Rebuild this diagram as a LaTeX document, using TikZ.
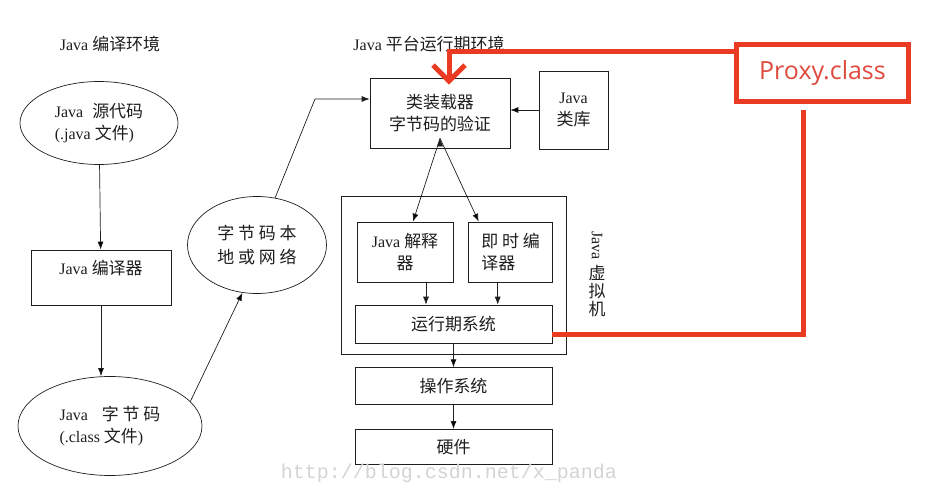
\documentclass[tikz,border=0pt]{standalone}
\usepackage{fontspec}
\setmainfont{Liberation Serif}
\newfontfamily\cjk[Scale=1.06]{Noto Sans CJK SC}
\newfontfamily\marktt{Liberation Mono}
\newfontfamily\proxyfont{Open Sans}
\usetikzlibrary{arrows, arrows.meta, shapes, positioning}
\definecolor{ink}{RGB}{30,30,30}
\definecolor{proxyred}{RGB}{234,58,34}
\definecolor{proxytext}{RGB}{222,74,62}
\definecolor{markgray}{RGB}{212,212,212}
\newcommand{\zh}[1]{{\cjk #1}}

\begin{document}
\begin{tikzpicture}[x=1pt,y=-1pt,>={Latex[length=8pt,width=6pt]},line width=0.7pt,
	font=\fontsize{16}{22}\selectfont,text=ink]

	\tikzset{node box/.style={rectangle, draw=ink, inner sep=2pt, align=center}}
	\tikzset{node ell/.style={ellipse, draw=ink, inner sep=0pt, align=left}}
	\tikzset{node red/.style={rectangle, draw=proxyred, line width=5pt,
			text=proxytext, font=\proxyfont\fontsize{25}{28}\selectfont}}
	\tikzset{red link/.style={draw=proxyred, line width=5pt}}

	\useasboundingbox (0,0) rectangle (930,495);

	% compile side
	\node (buildenv) at (110,44) {Java \zh{编译环境}};
	\node[node ell, minimum width=158pt, minimum height=83pt] (src) at (99,123)
		{Java\hspace{9pt}\zh{源代码}\\(.java \zh{文件})};
	\node[node box, minimum width=140pt, minimum height=55pt, inner ysep=6pt,
		text height=18pt, text depth=25pt] (javac) at (101,277.5) {Java \zh{编译器}};
	\node[node ell, minimum width=184pt, minimum height=99pt] (bc) at (110,426)
		{Java\hspace{14pt}\zh{字 节 码}\\(.class \zh{文件})};
	\node[node ell, align=center, minimum width=139pt, minimum height=97pt] (net) at (257,245)
		{\zh{字 节 码 本}\\[2pt]\zh{地 或 网 络}};

	% runtime side
	\node (runenv) at (429,44) {Java \zh{平台运行期环境}};
	\node[node box, minimum width=225pt, minimum height=158pt] (jvm) at (453.5,275) {};
	\node[node box, minimum width=140pt, minimum height=70pt] (loader) at (440,113)
		{\zh{类装载器}\\\zh{字节码的验证}};
	\node[node box, minimum width=69pt, minimum height=78pt] (lib) at (573.5,110)
		{Java\\\zh{类库}};
	\node[node box, minimum width=96pt, minimum height=60pt] (interp) at (405,252)
		{Java \zh{解释}\\\zh{器}};
	\node[node box, align=left, minimum width=84pt, minimum height=60pt, right=15pt of interp] (jit)
		{\zh{即 时 编}\\\zh{译器}};
	\node[node box, minimum width=197pt, minimum height=38pt] (rts) at (453.5,324)
		{\zh{运行期系统}};
	\node[node box, minimum width=197pt, minimum height=37pt, below=24pt of rts] (os)
		{\zh{操作系统}};
	\node[node box, minimum width=197pt, minimum height=35pt, below=24pt of os] (hw)
		{\zh{硬件}};
	\node[align=center, font=\fontsize{16}{18}\selectfont] (jvmtag) at (597,274)
		{\rotatebox{-90}{Java}\\[4pt]\zh{虚}\\\zh{拟}\\\zh{机}};

	\node[text=markgray, font=\marktt\fontsize{20}{22}\selectfont] (mark) at (449,473)
		{http://blog.csdn.net/x\_panda};

	% proxy
	\node[node red, minimum width=172pt, minimum height=57pt] (proxy) at (822.5,73)
		{Proxy.class\hspace{14pt}};

	\coordinate (bend) at (315,99);
	\coordinate (fork) at ([yshift=10pt]loader.south);
	\coordinate (interpfoot) at ([xshift=21pt]interp.south);
	\coordinate (jitfoot) at ([xshift=-13pt]jit.south);
	\coordinate (pin) at (449,52);
	\coordinate (turn) at (803.5,334);

	\draw[->, draw=ink]
		(src) edge (javac)
		(javac.south) edge (javac.south |- bc.north)
		(bc.17) edge (net.253)
		(lib.west) edge (lib.west -| loader.east)
		(fork) edge ([xshift=8pt]interp.north)
		(fork) edge ([xshift=-32pt]jit.north)
		(rts) edge (os)
		(os) edge (hw);
	\draw[->, draw=ink] (interpfoot) -- (interpfoot |- rts.north);
	\draw[->, draw=ink] (jitfoot) -- (jitfoot |- rts.north);
	\draw[->, draw=ink] (net.69) -- (bend) -- (bend -| loader.west);

	\draw[red link, -{Straight Barb[length=16pt,width=32pt]}]
		(proxy.west |- pin) -- (pin) -- ([yshift=-7pt]pin |- loader.north);
	\draw[red link] (rts.east |- turn) -- (turn) -- ([yshift=-6pt]turn |- proxy.south);
\end{tikzpicture}
\end{document}
